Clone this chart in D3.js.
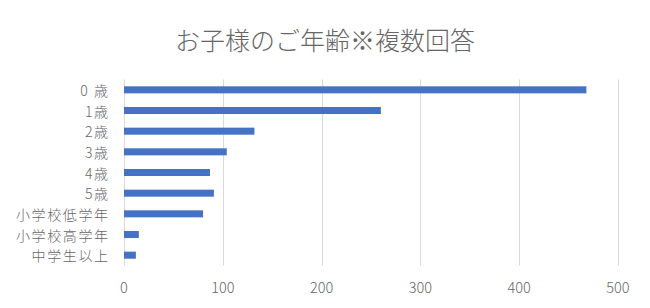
<!DOCTYPE html>
<html>
<head>
<meta charset="utf-8">
<script src="https://cdn.jsdelivr.net/npm/d3@7"></script>
<style>
    body { margin: 0; background: #fff; }
    text { font-family: "Noto Sans CJK JP", "Noto Sans", sans-serif; fill: #666; font-weight: 300; }
</style>
</head>
<body>
<script>
// categories and counts
const categories = ["0 歳", "1歳", "2歳", "3歳", "4歳", "5歳", "小学校低学年", "小学校高学年", "中学生以上"];
const counts = [468, 260, 132, 104, 87, 91, 80, 15, 12];
const ticks = [0, 100, 200, 300, 400, 500];
const title = "お子様のご年齢※複数回答";

const width = 650, height = 308;
const margin = {top: 79.5, right: 32, bottom: 42.5, left: 124};

const svg = d3.select("body").append("svg")
    .attr("width", width)
    .attr("height", height);

const x = d3.scaleLinear()
    .domain([0, 500])
    .range([margin.left, width - margin.right]);

const y = d3.scaleBand()
    .domain(categories)
    .range([margin.top, height - margin.bottom])
    .paddingInner(0.66)
    .paddingOuter(0.33);

// title
svg.append("text")
    .attr("x", width / 2)
    .attr("y", 38.5)
    .attr("dominant-baseline", "central")
    .attr("text-anchor", "middle")
    .style("font-size", "25px")
    .text(title);

// gridlines
svg.append("g")
    .selectAll("line")
    .data(ticks)
    .join("line")
    .attr("x1", d => Math.round(x(d)) + 0.5)
    .attr("x2", d => Math.round(x(d)) + 0.5)
    .attr("y1", margin.top)
    .attr("y2", height - margin.bottom)
    .attr("stroke", "#d9d9d9")
    .attr("stroke-width", 1);

// bars
svg.append("g")
    .selectAll("rect")
    .data(counts)
    .join("rect")
    .attr("x", x(0))
    .attr("y", (d, i) => y(categories[i]))
    .attr("width", d => x(d) - x(0))
    .attr("height", y.bandwidth())
    .attr("fill", "#4472c4");

// category labels (smaller font, spaced out so rows do not collide)
svg.append("g")
    .selectAll("text")
    .data(categories)
    .join("text")
    .attr("x", margin.left - 14.4)
    .attr("y", d => y(d) + y.bandwidth() / 2)
    .attr("dominant-baseline", "central")
    .attr("text-anchor", "end")
    .style("font-size", "14px")
    .style("letter-spacing", "1.6px")
    .text(d => d);

// value axis labels
svg.append("g")
    .selectAll("text")
    .data(ticks)
    .join("text")
    .attr("x", d => x(d))
    .attr("y", 293)
    .attr("text-anchor", "middle")
    .style("font-size", "14.5px")
    .text(d => d);
</script>
</body>
</html>
